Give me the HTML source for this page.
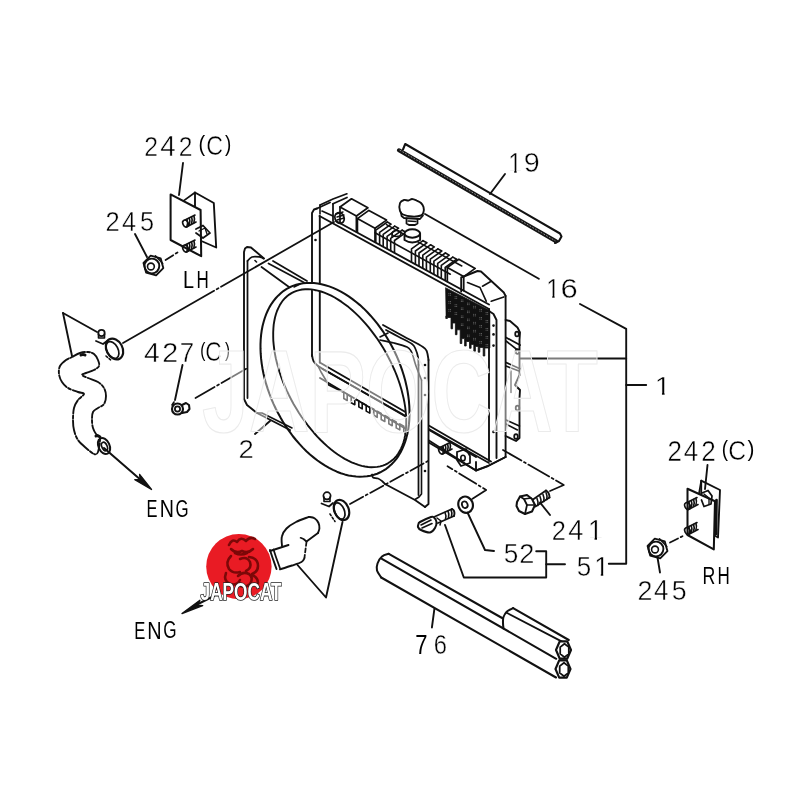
<!DOCTYPE html>
<html><head><meta charset="utf-8"><style>
html,body{margin:0;padding:0;background:#fff;width:800px;height:800px;overflow:hidden}
svg{display:block;will-change:transform}
text{font-family:"Liberation Sans",sans-serif;fill:#000;stroke:#fff;stroke-width:0.45px}
text.n{stroke:none}
text.w{fill:#fff;stroke:#555;stroke-width:1px;paint-order:stroke;font-weight:bold}
</style></head><body>
<svg width="800" height="800" viewBox="0 0 800 800">
<rect width="800" height="800" fill="#fff"/>
<g fill="none" stroke="#111" stroke-linecap="round" stroke-linejoin="round">
<text class="t" transform="translate(144.35,155.50) scale(0.886,1.018)" font-size="28">2</text>
<text class="t" transform="translate(160.36,155.50) scale(0.992,1.033)" font-size="28">4</text>
<text class="t" transform="translate(178.76,155.50) scale(0.882,1.018)" font-size="28">2</text>
<text class="n" transform="translate(198.46,151.08) scale(0.714,0.763)" font-size="28">(</text>
<text class="t" transform="translate(206.32,155.23) scale(0.829,1.004)" font-size="28">C</text>
<text class="n" transform="translate(224.89,151.08) scale(0.674,0.763)" font-size="28">)</text>
<text class="t" transform="translate(105.46,231.40) scale(0.913,1.003)" font-size="28">2</text>
<text class="t" transform="translate(121.92,231.40) scale(0.904,1.017)" font-size="28">4</text>
<text class="t" transform="translate(139.89,231.13) scale(0.904,1.003)" font-size="28">5</text>
<text class="n" transform="translate(183.12,288.20) scale(0.709,0.825)" font-size="28">L</text>
<text class="n" transform="translate(196.60,288.20) scale(0.607,0.825)" font-size="28">H</text>
<text class="t" transform="translate(144.10,361.50) scale(1.010,1.002)" font-size="28">4</text>
<text class="t" transform="translate(162.31,361.50) scale(1.023,0.987)" font-size="28">2</text>
<text class="t" transform="translate(179.67,361.50) scale(0.927,1.002)" font-size="28">7</text>
<text class="n" transform="translate(200.24,357.21) scale(0.552,0.740)" font-size="28">(</text>
<text class="t" transform="translate(205.35,361.23) scale(0.806,0.974)" font-size="28">C</text>
<text class="n" transform="translate(224.91,357.21) scale(0.539,0.740)" font-size="28">)</text>
<text class="t" transform="translate(238.62,457.50) scale(0.980,0.946)" font-size="28">2</text>
<text class="n" transform="translate(146.55,517.00) scale(0.586,0.872)" font-size="28">E</text>
<text class="n" transform="translate(159.68,517.00) scale(0.703,0.872)" font-size="28">N</text>
<text class="n" transform="translate(175.55,516.77) scale(0.602,0.847)" font-size="28">G</text>
<text class="n" transform="translate(134.14,638.50) scale(0.593,0.857)" font-size="28">E</text>
<text class="n" transform="translate(147.27,638.50) scale(0.710,0.857)" font-size="28">N</text>
<text class="n" transform="translate(163.14,638.27) scale(0.613,0.832)" font-size="28">G</text>
<clipPath id="c1_24"><polygon points="7.04,0.82 9.52,0.82 9.52,-2.39 16.41,-2.39 16.41,-21.88 0.00,-21.88 0.00,-2.39 7.04,-2.39"/></clipPath>
<text class="t" transform="translate(508.13,172.70) scale(0.879,1.036)" font-size="28" clip-path="url(#c1_24)">1</text>
<text class="t" transform="translate(523.65,172.42) scale(1.028,1.006)" font-size="28">9</text>
<clipPath id="c1_27"><polygon points="7.04,0.82 9.52,0.82 9.52,-2.39 16.41,-2.39 16.41,-21.88 0.00,-21.88 0.00,-2.39 7.04,-2.39"/></clipPath>
<text class="t" transform="translate(546.13,298.20) scale(0.879,0.997)" font-size="28" clip-path="url(#c1_27)">1</text>
<text class="t" transform="translate(560.43,297.94) scale(1.107,0.969)" font-size="28">6</text>
<clipPath id="c1_30"><polygon points="7.04,0.82 9.52,0.82 9.52,-2.39 16.41,-2.39 16.41,-21.88 0.00,-21.88 0.00,-2.39 7.04,-2.39"/></clipPath>
<text class="t" transform="translate(654.74,395.00) scale(1.026,0.908)" font-size="28" clip-path="url(#c1_30)">1</text>
<text class="t" transform="translate(667.44,460.60) scale(0.929,1.023)" font-size="28">2</text>
<text class="t" transform="translate(683.80,460.60) scale(0.928,1.038)" font-size="28">4</text>
<text class="t" transform="translate(701.19,460.60) scale(0.933,1.023)" font-size="28">2</text>
<text class="n" transform="translate(721.83,456.16) scale(0.674,0.767)" font-size="28">(</text>
<text class="t" transform="translate(728.15,460.32) scale(0.880,1.009)" font-size="28">C</text>
<text class="n" transform="translate(747.38,456.16) scale(0.741,0.767)" font-size="28">)</text>
<text class="t" transform="translate(551.72,539.75) scale(0.909,1.020)" font-size="28">2</text>
<text class="t" transform="translate(568.18,539.75) scale(0.971,1.036)" font-size="28">4</text>
<clipPath id="c1_40"><polygon points="7.04,0.82 9.52,0.82 9.52,-2.39 16.41,-2.39 16.41,-21.88 0.00,-21.88 0.00,-2.39 7.04,-2.39"/></clipPath>
<text class="t" transform="translate(587.93,539.75) scale(0.953,1.036)" font-size="28" clip-path="url(#c1_40)">1</text>
<text class="t" transform="translate(503.75,562.82) scale(0.934,1.019)" font-size="28">5</text>
<text class="t" transform="translate(519.23,563.10) scale(0.972,1.018)" font-size="28">2</text>
<text class="t" transform="translate(576.66,575.93) scale(0.927,0.983)" font-size="28">5</text>
<clipPath id="c1_45"><polygon points="7.04,0.82 9.52,0.82 9.52,-2.39 16.41,-2.39 16.41,-21.88 0.00,-21.88 0.00,-2.39 7.04,-2.39"/></clipPath>
<text class="t" transform="translate(594.13,576.20) scale(0.953,0.997)" font-size="28" clip-path="url(#c1_45)">1</text>
<text class="t" transform="translate(637.40,600.40) scale(0.960,1.008)" font-size="28">2</text>
<text class="t" transform="translate(653.90,600.40) scale(0.928,1.023)" font-size="28">4</text>
<text class="t" transform="translate(671.83,600.12) scale(0.957,1.008)" font-size="28">5</text>
<text class="n" transform="translate(702.55,583.50) scale(0.632,0.857)" font-size="28">R</text>
<text class="n" transform="translate(717.60,583.50) scale(0.607,0.857)" font-size="28">H</text>
<text class="n" transform="translate(415.37,654.00) scale(0.786,1.012)" font-size="28">7</text>
<text class="t" transform="translate(433.79,653.73) scale(0.851,0.984)" font-size="28">6</text>
<path d="M183.0,163.0 L179.0,195.0" stroke-width="1.89" />
<path d="M147.0,257.0 L135.0,234.0" stroke-width="1.89" />
<path d="M182.5,365.0 L175.0,400.0" stroke-width="1.89" />
<path d="M255.0,434.0 L270.0,421.0" stroke-width="1.89" />
<path d="M505.0,174.0 L490.0,194.0" stroke-width="1.89" />
<path d="M425.0,214.0 L538.8,278.8" stroke-width="1.89" />
<path d="M580.0,304.0 L626.2,328.8 L626.2,563.8 L608.8,563.8" stroke-width="1.89" />
<path d="M520.0,358.5 L626.2,358.5" stroke-width="1.89" />
<path d="M626.2,385.0 L646.2,385.0" stroke-width="1.89" />
<path d="M707.5,465.0 L705.0,489.0" stroke-width="1.89" />
<path d="M657.5,557.5 L660.0,572.5" stroke-width="1.89" />
<path d="M540.0,502.5 L550.0,515.0" stroke-width="1.89" />
<path d="M467.5,512.5 L485.0,550.0 L494.0,551.0" stroke-width="1.89" />
<path d="M536.2,551.2 L546.2,551.2 L546.2,577.5 L463.8,577.5 L445.0,525.0" stroke-width="1.89" />
<path d="M546.2,564.2 L565.0,564.2" stroke-width="1.89" />
<path d="M434.4,608.8 L431.9,627.5" stroke-width="1.89" />
<path d="M63.0,313.0 L72.0,356.0" stroke-width="1.89" />
<path d="M63.0,313.0 L97.0,332.0" stroke-width="1.89" />
<path d="M297.5,565.0 L326.0,597.5 L342.5,522.0" stroke-width="1.89" />
<path d="M123.0,343.0 L334.0,222.0" stroke-width="1.76" stroke-dasharray="105 3 2 3 300"/>
<path d="M195.5,398.0 L246.2,368.8" stroke-width="1.76" stroke-dasharray="22 3 2 3 60"/>
<path d="M350.0,504.0 L419.0,466.0 L428.0,461.0" stroke-width="1.76" stroke-dasharray="15 3 2 3"/>
<path d="M550.0,491.0 L563.8,485.0 L503.0,450.0" stroke-width="1.76" stroke-dasharray="24 3 2 3"/>
<path d="M472.5,498.8 L486.2,490.0 L447.5,466.2" stroke-width="1.76" stroke-dasharray="20 3 2 3"/>
<path d="M165.6,260.0 L177.5,252.5" stroke-width="1.76" stroke-dasharray="9 3"/>
<path d="M670.0,542.5 L682.5,536.2" stroke-width="1.76" stroke-dasharray="9 3"/>
<g mask="url(#shm)">
<path d="M312.0,356.0 L312.0,213.0 L314.0,209.5 L317.0,208.5" stroke-width="1.89" />
<path d="M319.8,362.5 L319.8,216.0" stroke-width="1.89" />
<path d="M317.0,208.5 L330.0,202.5" stroke-width="1.89" />
<path d="M319.5,216.0 L489.0,309.0" stroke-width="1.89" />
<path d="M336.0,221.0 L489.0,304.5" stroke-width="1.89" />
<path d="M489.0,309.0 L489.0,461.0" stroke-width="1.89" />
<path d="M489.0,311.0 L493.5,314.0 L496.5,320.0 L496.5,458.0" stroke-width="1.89" />
<path d="M505.6,296.0 L505.6,457.0" stroke-width="1.89" />
<path d="M461.2,291.5 L461.2,277.5 L477.5,271.0 L481.0,271.5 L503.8,292.5 L505.6,296.0" stroke-width="1.89" />
<path d="M467.5,282.5 L480.0,287.5 L486.2,301.2" stroke-width="1.62" />
<path d="M482.5,286.2 L491.2,281.2" stroke-width="1.62" />
<path d="M491.2,301.2 L503.8,296.9" stroke-width="1.62" />
<path d="M319.8,362.5 L491.0,461.5" stroke-width="1.89" />
<path d="M312.0,355.0 C312.2,356.0 312.5,359.2 313.5,361.0 C314.5,362.8 315.2,364.0 318.0,366.0 C320.8,368.0 328.0,371.8 330.0,373.0" stroke-width="1.89" />
<path d="M330.0,373.0 L476.0,457.0" stroke-width="1.89" />
<path d="M320.0,378.0 L476.0,470.5 L488.0,466.0 L505.6,457.0" stroke-width="1.89" />
<path d="M476.0,462.0 L476.0,470.5" stroke-width="1.89" />
<circle cx="315.5" cy="240" r="1.3" fill="#111" stroke="none"/>
<circle cx="315.5" cy="290" r="1.3" fill="#111" stroke="none"/>
<circle cx="493.5" cy="325.6" r="1.3" fill="#111" stroke="none"/>
<circle cx="493.5" cy="334.4" r="1.3" fill="#111" stroke="none"/>
<circle cx="493.5" cy="345.6" r="1.3" fill="#111" stroke="none"/>
<circle cx="493.5" cy="431.9" r="1.3" fill="#111" stroke="none"/>
<path d="M505.6,320.0 L510.0,321.0 L517.5,327.5 L520.0,332.5 L519.5,340.0 L519.5,375.0 L515.0,385.0 L520.0,390.0 L519.5,398.0 L519.5,438.0 L516.0,441.0 L505.6,436.0" stroke-width="1.89" />
<path d="M506.0,337.5 L520.0,345.0" stroke-width="1.76" />
<path d="M506.0,341.0 L517.5,350.0" stroke-width="1.62" />
<path d="M506.0,362.5 L520.0,368.8" stroke-width="1.76" />
<path d="M506.0,366.0 L519.0,371.0" stroke-width="1.62" />
<path d="M506.0,420.0 L519.4,426.0" stroke-width="1.76" />
<path d="M506.0,424.0 L517.5,430.0" stroke-width="1.62" />
<path d="M511.0,371.0 L511.0,392.5" stroke-width="1.35" />
<ellipse cx="517" cy="334" rx="1.8" ry="2.4" transform="rotate(0 517 334)" stroke-width="1.76" fill="none"/>
<ellipse cx="517.5" cy="351.5" rx="1.8" ry="2.4" transform="rotate(0 517.5 351.5)" stroke-width="1.76" fill="none"/>
<ellipse cx="517.5" cy="408" rx="1.8" ry="2.4" transform="rotate(0 517.5 408)" stroke-width="1.76" fill="none"/>
<ellipse cx="516" cy="436.5" rx="1.8" ry="2.4" transform="rotate(0 516 436.5)" stroke-width="1.76" fill="none"/>
<path d="M445.9,287.9 L489.8,310.6 L489.8,348.0 L484.8,348.0 L484.8,356.0 L483.2,356.0 L483.2,347.4 L479.8,347.4 L479.8,352.2 L478.2,352.2 L478.2,346.4 L475.4,346.4 L475.4,351.2 L473.8,351.2 L473.8,344.4 L471.1,344.4 L471.1,348.3 L469.5,348.3 L469.5,341.5 L466.2,341.5 L466.2,346.0 L464.6,346.0 L464.6,338.6 L461.8,338.6 L461.8,343.5 L460.2,343.5 L460.2,329.8 L457.0,329.8 L457.0,334.7 L455.4,334.7 L455.4,323.0 L452.6,323.0 L452.6,328.8 L451.0,328.8 L451.0,317.5 L447.4,317.5 L447.4,318.5 L445.8,318.5 L445.8,316.0 L445.9,316.0 Z" fill="#111" stroke="#111" stroke-width="0.81"/>
<rect x="448.5" y="293.2" width="0.8" height="0.8" fill="#8a8a8a" stroke="none"/>
<rect x="450.1" y="293.2" width="0.8" height="0.8" fill="#8a8a8a" stroke="none"/>
<rect x="448.5" y="294.8" width="0.8" height="0.8" fill="#8a8a8a" stroke="none"/>
<rect x="450.1" y="294.8" width="0.8" height="0.8" fill="#8a8a8a" stroke="none"/>
<rect x="448.5" y="301.2" width="0.8" height="0.8" fill="#8a8a8a" stroke="none"/>
<rect x="450.1" y="301.2" width="0.8" height="0.8" fill="#8a8a8a" stroke="none"/>
<rect x="448.5" y="302.8" width="0.8" height="0.8" fill="#8a8a8a" stroke="none"/>
<rect x="450.1" y="302.8" width="0.8" height="0.8" fill="#8a8a8a" stroke="none"/>
<rect x="448.5" y="309.2" width="0.8" height="0.8" fill="#8a8a8a" stroke="none"/>
<rect x="450.1" y="309.2" width="0.8" height="0.8" fill="#8a8a8a" stroke="none"/>
<rect x="448.5" y="310.8" width="0.8" height="0.8" fill="#8a8a8a" stroke="none"/>
<rect x="450.1" y="310.8" width="0.8" height="0.8" fill="#8a8a8a" stroke="none"/>
<rect x="454.7" y="296.4" width="0.8" height="0.8" fill="#8a8a8a" stroke="none"/>
<rect x="456.3" y="296.4" width="0.8" height="0.8" fill="#8a8a8a" stroke="none"/>
<rect x="454.7" y="298.0" width="0.8" height="0.8" fill="#8a8a8a" stroke="none"/>
<rect x="456.3" y="298.0" width="0.8" height="0.8" fill="#8a8a8a" stroke="none"/>
<rect x="454.7" y="304.4" width="0.8" height="0.8" fill="#8a8a8a" stroke="none"/>
<rect x="456.3" y="304.4" width="0.8" height="0.8" fill="#8a8a8a" stroke="none"/>
<rect x="454.7" y="306.0" width="0.8" height="0.8" fill="#8a8a8a" stroke="none"/>
<rect x="456.3" y="306.0" width="0.8" height="0.8" fill="#8a8a8a" stroke="none"/>
<rect x="454.7" y="312.4" width="0.8" height="0.8" fill="#8a8a8a" stroke="none"/>
<rect x="456.3" y="312.4" width="0.8" height="0.8" fill="#8a8a8a" stroke="none"/>
<rect x="454.7" y="314.0" width="0.8" height="0.8" fill="#8a8a8a" stroke="none"/>
<rect x="456.3" y="314.0" width="0.8" height="0.8" fill="#8a8a8a" stroke="none"/>
<rect x="460.9" y="299.6" width="0.8" height="0.8" fill="#8a8a8a" stroke="none"/>
<rect x="462.5" y="299.6" width="0.8" height="0.8" fill="#8a8a8a" stroke="none"/>
<rect x="460.9" y="301.2" width="0.8" height="0.8" fill="#8a8a8a" stroke="none"/>
<rect x="462.5" y="301.2" width="0.8" height="0.8" fill="#8a8a8a" stroke="none"/>
<rect x="460.9" y="307.6" width="0.8" height="0.8" fill="#8a8a8a" stroke="none"/>
<rect x="462.5" y="307.6" width="0.8" height="0.8" fill="#8a8a8a" stroke="none"/>
<rect x="460.9" y="309.2" width="0.8" height="0.8" fill="#8a8a8a" stroke="none"/>
<rect x="462.5" y="309.2" width="0.8" height="0.8" fill="#8a8a8a" stroke="none"/>
<rect x="460.9" y="315.6" width="0.8" height="0.8" fill="#8a8a8a" stroke="none"/>
<rect x="462.5" y="315.6" width="0.8" height="0.8" fill="#8a8a8a" stroke="none"/>
<rect x="460.9" y="317.2" width="0.8" height="0.8" fill="#8a8a8a" stroke="none"/>
<rect x="462.5" y="317.2" width="0.8" height="0.8" fill="#8a8a8a" stroke="none"/>
<rect x="460.9" y="323.6" width="0.8" height="0.8" fill="#8a8a8a" stroke="none"/>
<rect x="462.5" y="323.6" width="0.8" height="0.8" fill="#8a8a8a" stroke="none"/>
<rect x="460.9" y="325.2" width="0.8" height="0.8" fill="#8a8a8a" stroke="none"/>
<rect x="462.5" y="325.2" width="0.8" height="0.8" fill="#8a8a8a" stroke="none"/>
<rect x="467.1" y="302.7" width="0.8" height="0.8" fill="#8a8a8a" stroke="none"/>
<rect x="468.7" y="302.7" width="0.8" height="0.8" fill="#8a8a8a" stroke="none"/>
<rect x="467.1" y="304.3" width="0.8" height="0.8" fill="#8a8a8a" stroke="none"/>
<rect x="468.7" y="304.3" width="0.8" height="0.8" fill="#8a8a8a" stroke="none"/>
<rect x="467.1" y="310.7" width="0.8" height="0.8" fill="#8a8a8a" stroke="none"/>
<rect x="468.7" y="310.7" width="0.8" height="0.8" fill="#8a8a8a" stroke="none"/>
<rect x="467.1" y="312.3" width="0.8" height="0.8" fill="#8a8a8a" stroke="none"/>
<rect x="468.7" y="312.3" width="0.8" height="0.8" fill="#8a8a8a" stroke="none"/>
<rect x="467.1" y="318.7" width="0.8" height="0.8" fill="#8a8a8a" stroke="none"/>
<rect x="468.7" y="318.7" width="0.8" height="0.8" fill="#8a8a8a" stroke="none"/>
<rect x="467.1" y="320.3" width="0.8" height="0.8" fill="#8a8a8a" stroke="none"/>
<rect x="468.7" y="320.3" width="0.8" height="0.8" fill="#8a8a8a" stroke="none"/>
<rect x="467.1" y="326.7" width="0.8" height="0.8" fill="#8a8a8a" stroke="none"/>
<rect x="468.7" y="326.7" width="0.8" height="0.8" fill="#8a8a8a" stroke="none"/>
<rect x="467.1" y="328.3" width="0.8" height="0.8" fill="#8a8a8a" stroke="none"/>
<rect x="468.7" y="328.3" width="0.8" height="0.8" fill="#8a8a8a" stroke="none"/>
<rect x="467.1" y="334.7" width="0.8" height="0.8" fill="#8a8a8a" stroke="none"/>
<rect x="468.7" y="334.7" width="0.8" height="0.8" fill="#8a8a8a" stroke="none"/>
<rect x="467.1" y="336.3" width="0.8" height="0.8" fill="#8a8a8a" stroke="none"/>
<rect x="468.7" y="336.3" width="0.8" height="0.8" fill="#8a8a8a" stroke="none"/>
<rect x="473.3" y="305.9" width="0.8" height="0.8" fill="#8a8a8a" stroke="none"/>
<rect x="474.9" y="305.9" width="0.8" height="0.8" fill="#8a8a8a" stroke="none"/>
<rect x="473.3" y="307.5" width="0.8" height="0.8" fill="#8a8a8a" stroke="none"/>
<rect x="474.9" y="307.5" width="0.8" height="0.8" fill="#8a8a8a" stroke="none"/>
<rect x="473.3" y="313.9" width="0.8" height="0.8" fill="#8a8a8a" stroke="none"/>
<rect x="474.9" y="313.9" width="0.8" height="0.8" fill="#8a8a8a" stroke="none"/>
<rect x="473.3" y="315.5" width="0.8" height="0.8" fill="#8a8a8a" stroke="none"/>
<rect x="474.9" y="315.5" width="0.8" height="0.8" fill="#8a8a8a" stroke="none"/>
<rect x="473.3" y="321.9" width="0.8" height="0.8" fill="#8a8a8a" stroke="none"/>
<rect x="474.9" y="321.9" width="0.8" height="0.8" fill="#8a8a8a" stroke="none"/>
<rect x="473.3" y="323.5" width="0.8" height="0.8" fill="#8a8a8a" stroke="none"/>
<rect x="474.9" y="323.5" width="0.8" height="0.8" fill="#8a8a8a" stroke="none"/>
<rect x="473.3" y="329.9" width="0.8" height="0.8" fill="#8a8a8a" stroke="none"/>
<rect x="474.9" y="329.9" width="0.8" height="0.8" fill="#8a8a8a" stroke="none"/>
<rect x="473.3" y="331.5" width="0.8" height="0.8" fill="#8a8a8a" stroke="none"/>
<rect x="474.9" y="331.5" width="0.8" height="0.8" fill="#8a8a8a" stroke="none"/>
<rect x="473.3" y="337.9" width="0.8" height="0.8" fill="#8a8a8a" stroke="none"/>
<rect x="474.9" y="337.9" width="0.8" height="0.8" fill="#8a8a8a" stroke="none"/>
<rect x="473.3" y="339.5" width="0.8" height="0.8" fill="#8a8a8a" stroke="none"/>
<rect x="474.9" y="339.5" width="0.8" height="0.8" fill="#8a8a8a" stroke="none"/>
<rect x="479.5" y="309.1" width="0.8" height="0.8" fill="#8a8a8a" stroke="none"/>
<rect x="481.1" y="309.1" width="0.8" height="0.8" fill="#8a8a8a" stroke="none"/>
<rect x="479.5" y="310.7" width="0.8" height="0.8" fill="#8a8a8a" stroke="none"/>
<rect x="481.1" y="310.7" width="0.8" height="0.8" fill="#8a8a8a" stroke="none"/>
<rect x="479.5" y="317.1" width="0.8" height="0.8" fill="#8a8a8a" stroke="none"/>
<rect x="481.1" y="317.1" width="0.8" height="0.8" fill="#8a8a8a" stroke="none"/>
<rect x="479.5" y="318.7" width="0.8" height="0.8" fill="#8a8a8a" stroke="none"/>
<rect x="481.1" y="318.7" width="0.8" height="0.8" fill="#8a8a8a" stroke="none"/>
<rect x="479.5" y="325.1" width="0.8" height="0.8" fill="#8a8a8a" stroke="none"/>
<rect x="481.1" y="325.1" width="0.8" height="0.8" fill="#8a8a8a" stroke="none"/>
<rect x="479.5" y="326.7" width="0.8" height="0.8" fill="#8a8a8a" stroke="none"/>
<rect x="481.1" y="326.7" width="0.8" height="0.8" fill="#8a8a8a" stroke="none"/>
<rect x="479.5" y="333.1" width="0.8" height="0.8" fill="#8a8a8a" stroke="none"/>
<rect x="481.1" y="333.1" width="0.8" height="0.8" fill="#8a8a8a" stroke="none"/>
<rect x="479.5" y="334.7" width="0.8" height="0.8" fill="#8a8a8a" stroke="none"/>
<rect x="481.1" y="334.7" width="0.8" height="0.8" fill="#8a8a8a" stroke="none"/>
<rect x="479.5" y="341.1" width="0.8" height="0.8" fill="#8a8a8a" stroke="none"/>
<rect x="481.1" y="341.1" width="0.8" height="0.8" fill="#8a8a8a" stroke="none"/>
<rect x="479.5" y="342.7" width="0.8" height="0.8" fill="#8a8a8a" stroke="none"/>
<rect x="481.1" y="342.7" width="0.8" height="0.8" fill="#8a8a8a" stroke="none"/>
<rect x="485.7" y="312.2" width="0.8" height="0.8" fill="#8a8a8a" stroke="none"/>
<rect x="487.3" y="312.2" width="0.8" height="0.8" fill="#8a8a8a" stroke="none"/>
<rect x="485.7" y="313.8" width="0.8" height="0.8" fill="#8a8a8a" stroke="none"/>
<rect x="487.3" y="313.8" width="0.8" height="0.8" fill="#8a8a8a" stroke="none"/>
<rect x="485.7" y="320.2" width="0.8" height="0.8" fill="#8a8a8a" stroke="none"/>
<rect x="487.3" y="320.2" width="0.8" height="0.8" fill="#8a8a8a" stroke="none"/>
<rect x="485.7" y="321.8" width="0.8" height="0.8" fill="#8a8a8a" stroke="none"/>
<rect x="487.3" y="321.8" width="0.8" height="0.8" fill="#8a8a8a" stroke="none"/>
<rect x="485.7" y="328.2" width="0.8" height="0.8" fill="#8a8a8a" stroke="none"/>
<rect x="487.3" y="328.2" width="0.8" height="0.8" fill="#8a8a8a" stroke="none"/>
<rect x="485.7" y="329.8" width="0.8" height="0.8" fill="#8a8a8a" stroke="none"/>
<rect x="487.3" y="329.8" width="0.8" height="0.8" fill="#8a8a8a" stroke="none"/>
<rect x="485.7" y="336.2" width="0.8" height="0.8" fill="#8a8a8a" stroke="none"/>
<rect x="487.3" y="336.2" width="0.8" height="0.8" fill="#8a8a8a" stroke="none"/>
<rect x="485.7" y="337.8" width="0.8" height="0.8" fill="#8a8a8a" stroke="none"/>
<rect x="487.3" y="337.8" width="0.8" height="0.8" fill="#8a8a8a" stroke="none"/>
<rect x="485.7" y="344.2" width="0.8" height="0.8" fill="#8a8a8a" stroke="none"/>
<rect x="487.3" y="344.2" width="0.8" height="0.8" fill="#8a8a8a" stroke="none"/>
<rect x="485.7" y="345.8" width="0.8" height="0.8" fill="#8a8a8a" stroke="none"/>
<rect x="487.3" y="345.8" width="0.8" height="0.8" fill="#8a8a8a" stroke="none"/>
<path d="M375.0,232.8 L450.3,274.2" stroke-width="1.62" />
<path d="M386.5,224.6 L461.8,266.0" stroke-width="1.49" />
<path d="M340.0,222.5 L340.0,207.0 L356.4,216.0 L356.4,231.5" stroke-width="1.76" />
<path d="M340.0,207.0 L351.5,198.8 L367.9,207.8 L356.4,216.0" stroke-width="1.76" />
<path d="M357.4,232.1 L357.4,218.6 L375.0,228.3 L375.0,241.8" stroke-width="1.76" />
<path d="M357.4,218.6 L368.9,210.4 L386.5,220.1 L375.0,228.3" stroke-width="1.76" />
<path d="M375.8,242.2 L375.8,230.2 L387.3,222.0" stroke-width="1.62" />
<path d="M379.6,244.3 L379.6,232.3 L391.1,224.1 L387.3,222.0" stroke-width="1.62" />
<path d="M383.2,246.3 L383.2,234.3 L394.7,226.1" stroke-width="1.62" />
<path d="M387.1,248.4 L387.1,236.4 L398.6,228.2 L394.7,226.1" stroke-width="1.62" />
<path d="M390.7,250.4 L390.7,238.4 L402.2,230.2" stroke-width="1.62" />
<path d="M394.5,252.5 L394.5,240.5 L406.0,232.3 L402.2,230.2" stroke-width="1.62" />
<path d="M411.5,261.9 L411.5,248.9 L423.0,240.7" stroke-width="1.62" />
<path d="M415.4,264.0 L415.4,251.0 L426.9,242.8 L423.0,240.7" stroke-width="1.62" />
<path d="M419.0,266.0 L419.0,253.0 L430.5,244.8" stroke-width="1.62" />
<path d="M422.8,268.1 L422.8,255.1 L434.3,246.9 L430.5,244.8" stroke-width="1.62" />
<path d="M426.4,270.1 L426.4,257.1 L437.9,248.9" stroke-width="1.62" />
<path d="M430.3,272.2 L430.3,259.2 L441.8,251.0 L437.9,248.9" stroke-width="1.62" />
<path d="M433.9,274.2 L433.9,261.2 L445.4,253.0" stroke-width="1.62" />
<path d="M437.7,276.3 L437.7,263.3 L449.2,255.1 L445.4,253.0" stroke-width="1.62" />
<path d="M441.3,278.3 L441.3,265.3 L452.8,257.1" stroke-width="1.62" />
<path d="M445.2,280.4 L445.2,267.4 L456.7,259.2 L452.8,257.1" stroke-width="1.62" />
<path d="M447.3,281.5 L447.3,267.5 L463.7,276.6 L463.7,290.6" stroke-width="1.76" />
<path d="M447.3,267.5 L458.8,259.3 L475.2,268.4 L463.7,276.6" stroke-width="1.76" />
<path d="M404.5,233.5 L404.5,240 q7.8,5 15.6,0 L420.1,233.5" fill="#fff" stroke-width="1.89"/>
<ellipse cx="412.3" cy="233.5" rx="7.8" ry="4.2" fill="#fff" stroke-width="2.03"/>
<ellipse cx="396.5" cy="233.5" rx="4.5" ry="3" transform="rotate(0 396.5 233.5)" stroke-width="1.62" fill="none"/>
<path d="M392.0,233.5 L392.0,237.0" stroke-width="1.49" />
<path d="M320.0,205.0 L333.0,199.0 L346.9,193.8" stroke-width="1.76" />
<path d="M333.0,203.8 L333.0,221.0" stroke-width="1.76" />
<path d="M333.0,203.8 L347.0,197.5" stroke-width="1.76" />
<path d="M320.0,205.0 L320.0,214.0" stroke-width="1.62" />
<path d="M322.0,211.0 L333.0,216.0" stroke-width="1.62" />
<ellipse cx="339.5" cy="218" rx="4.5" ry="5.5" transform="rotate(-20 339.5 218)" stroke-width="1.89" fill="none"/>
<path d="M336.0,214.0 L343.0,212.0" stroke-width="1.35" />
<path d="M337.0,217.0 L344.0,215.0" stroke-width="1.35" />
<path d="M337.0,220.0 L344.0,218.0" stroke-width="1.35" />
<path d="M322.5,369.0 L489.0,463.0" stroke-width="1.76" />
<path d="M318.0,366.0 L321.0,372.0 L328.8,385.0 L343.8,392.5 L343.8,398.5 L347.2,400.5 L347.2,394.5 L351.2,396.7 L351.2,402.7 L354.8,404.7 L354.8,398.7 L358.8,400.9 L358.8,406.9 L362.2,408.9 L362.2,402.9 L366.2,405.1 L366.2,411.1 L369.8,413.1 L369.8,407.1 L373.8,409.3 L373.8,415.3 L377.2,417.3 L377.2,411.3 L381.2,413.5 L381.2,419.5 L384.8,421.5 L384.8,415.5 L388.8,417.7 L388.8,423.7 L392.2,425.7 L392.2,419.7 L396.2,421.9 L396.2,427.9 L399.8,429.9 L399.8,423.9 L403.8,426.1 L403.8,432.1 L407.2,434.1 L407.2,428.1 L411.2,430.3 L411.2,436.3 L414.8,438.3 L414.8,432.3 L418.8,434.5 L418.8,440.5 L422.2,442.5 L422.2,436.5 L426.2,438.7" stroke-width="1.62" />
<path d="M426.2,438.7 L476.0,470.5 L488.0,466.0 L505.6,457.0" stroke-width="1.76" />
<ellipse cx="441.5" cy="450.5" rx="2.6" ry="3.6" transform="rotate(-25 441.5 450.5)" stroke-width="1.62" fill="none"/>
<path d="M443.0,446.5 q1.2,3 0,6.5" stroke-width="1.62"/>
<path d="M445.3,445.3 q1.2,3 0,6.5" stroke-width="1.62"/>
<path d="M447.6,444.1 q1.2,3 0,6.5" stroke-width="1.62"/>
<path d="M449.9,442.9 q1.2,3 0,6.5" stroke-width="1.62"/>
<path d="M441.5,446.8 L451.0,442.0" stroke-width="1.62" />
<path d="M442.5,454.0 L452.0,449.0" stroke-width="1.62" />
<path d="M457.0,452.0 L466.0,449.0 L470.0,456.0 L470.0,463.0 L461.0,466.0 L457.0,460.0 L457.0,452.0" stroke-width="1.76" />
<ellipse cx="463" cy="458" rx="2.2" ry="2.8" transform="rotate(0 463 458)" stroke-width="1.62" fill="none"/>
</g>
<defs><mask id="shm" maskUnits="userSpaceOnUse" x="0" y="0" width="800" height="800"><rect width="800" height="800" fill="#fff"/><path d="M244.0,252.0 L245.0,248.5 L247.0,247.0 L251.0,247.5 L264.0,258.5 L273.0,261.0 L425.0,348.0 L428.0,353.0 L428.0,506.5 L421.0,505.0 L383.0,483.0 L376.0,476.0 L257.0,413.0 L247.0,405.0 L244.0,399.0 Z" fill="#000"/><path d="M394.2,350.8 L396.5,355.7 L398.6,360.6 L400.5,365.6 L402.3,370.7 L403.9,375.7 L405.3,380.8 L406.5,385.9 L407.5,390.9 L408.3,396.0 L408.9,400.9 L409.3,405.9 L409.5,410.7 L409.5,415.5 L409.3,420.1 L408.9,424.7 L408.3,429.1 L407.5,433.4 L406.4,437.6 L405.2,441.6 L403.8,445.4 L402.2,449.1 L400.5,452.5 L398.5,455.8 L396.4,458.8 L394.1,461.6 L391.6,464.2 L389.0,466.6 L386.3,468.8 L383.3,470.7 L380.3,472.3 L377.2,473.7 L373.9,474.8 L370.5,475.7 L367.0,476.3 L363.5,476.6 L359.8,476.7 L356.1,476.5 L352.3,476.1 L348.5,475.4 L344.7,474.4 L340.8,473.2 L336.9,471.7 L333.0,469.9 L329.1,467.9 L325.2,465.7 L321.3,463.2 L317.5,460.5 L313.8,457.6 L310.0,454.5 L306.4,451.2 L302.8,447.6 L299.4,443.9 L296.0,440.0 L292.7,436.0 L289.6,431.7 L286.5,427.4 L283.6,422.9 L280.9,418.3 L278.3,413.6 L275.8,408.8 L273.5,403.9 L271.4,399.0 L269.5,394.0 L267.7,388.9 L266.1,383.9 L264.7,378.8 L263.5,373.7 L262.5,368.7 L261.7,363.6 L261.1,358.7 L260.7,353.7 L260.5,348.9 L260.5,344.1 L260.7,339.5 L261.1,334.9 L261.7,330.5 L262.5,326.2 L263.6,322.0 L264.8,318.0 L266.2,314.2 L267.8,310.5 L269.5,307.1 L271.5,303.8 L273.6,300.8 L275.9,298.0 L278.4,295.4 L281.0,293.0 L283.7,290.8 L286.7,288.9 L289.7,287.3 L292.8,285.9 L296.1,284.8 L299.5,283.9 L303.0,283.3 L306.5,283.0 L310.2,282.9 L313.9,283.1 L317.7,283.5 L321.5,284.2 L325.3,285.2 L329.2,286.4 L333.1,287.9 L337.0,289.7 L340.9,291.7 L344.8,293.9 L348.7,296.4 L352.5,299.1 L356.2,302.0 L360.0,305.1 L363.6,308.4 L367.2,312.0 L370.6,315.7 L374.0,319.6 L377.3,323.6 L380.4,327.9 L383.5,332.2 L386.4,336.7 L389.1,341.3 L391.7,346.0 L394.2,350.8 Z" fill="#000"/><path d="M385.7,352.2 L388.1,356.7 L390.4,361.2 L392.6,365.8 L394.7,370.5 L396.6,375.1 L398.3,379.8 L399.9,384.4 L401.3,389.1 L402.5,393.7 L403.6,398.2 L404.5,402.8 L405.2,407.2 L405.7,411.6 L406.1,415.8 L406.2,420.0 L406.2,424.1 L406.0,428.0 L405.7,431.8 L405.1,435.4 L404.4,438.9 L403.5,442.2 L402.4,445.4 L401.1,448.3 L399.7,451.1 L398.1,453.7 L396.4,456.1 L394.5,458.2 L392.4,460.1 L390.2,461.8 L387.9,463.3 L385.4,464.6 L382.8,465.6 L380.1,466.3 L377.3,466.9 L374.3,467.1 L371.3,467.2 L368.2,467.0 L365.0,466.5 L361.7,465.8 L358.4,464.9 L355.1,463.7 L351.6,462.3 L348.2,460.7 L344.7,458.9 L341.3,456.8 L337.8,454.5 L334.3,452.0 L330.8,449.3 L327.4,446.4 L324.0,443.3 L320.6,440.0 L317.3,436.6 L314.1,433.0 L310.9,429.2 L307.8,425.3 L304.8,421.3 L301.8,417.2 L299.0,413.0 L296.3,408.6 L293.7,404.2 L291.3,399.7 L289.0,395.2 L286.8,390.6 L284.7,385.9 L282.8,381.3 L281.1,376.6 L279.5,372.0 L278.1,367.3 L276.9,362.7 L275.8,358.2 L274.9,353.6 L274.2,349.2 L273.7,344.8 L273.3,340.6 L273.2,336.4 L273.2,332.3 L273.4,328.4 L273.7,324.6 L274.3,321.0 L275.0,317.5 L275.9,314.2 L277.0,311.0 L278.3,308.1 L279.7,305.3 L281.3,302.7 L283.0,300.3 L284.9,298.2 L287.0,296.3 L289.2,294.6 L291.5,293.1 L294.0,291.8 L296.6,290.8 L299.3,290.1 L302.1,289.5 L305.1,289.3 L308.1,289.2 L311.2,289.4 L314.4,289.9 L317.7,290.6 L321.0,291.5 L324.3,292.7 L327.8,294.1 L331.2,295.7 L334.7,297.5 L338.1,299.6 L341.6,301.9 L345.1,304.4 L348.6,307.1 L352.0,310.0 L355.4,313.1 L358.8,316.4 L362.1,319.8 L365.3,323.4 L368.5,327.2 L371.6,331.1 L374.6,335.1 L377.6,339.2 L380.4,343.4 L383.1,347.8 L385.7,352.2 Z" fill="#fff"/></mask></defs>
<path d="M394.2,350.8 L396.5,355.7 L398.6,360.6 L400.5,365.6 L402.3,370.7 L403.9,375.7 L405.3,380.8 L406.5,385.9 L407.5,390.9 L408.3,396.0 L408.9,400.9 L409.3,405.9 L409.5,410.7 L409.5,415.5 L409.3,420.1 L408.9,424.7 L408.3,429.1 L407.5,433.4 L406.4,437.6 L405.2,441.6 L403.8,445.4 L402.2,449.1 L400.5,452.5 L398.5,455.8 L396.4,458.8 L394.1,461.6 L391.6,464.2 L389.0,466.6 L386.3,468.8 L383.3,470.7 L380.3,472.3 L377.2,473.7 L373.9,474.8 L370.5,475.7 L367.0,476.3 L363.5,476.6 L359.8,476.7 L356.1,476.5 L352.3,476.1 L348.5,475.4 L344.7,474.4 L340.8,473.2 L336.9,471.7 L333.0,469.9 L329.1,467.9 L325.2,465.7 L321.3,463.2 L317.5,460.5 L313.8,457.6 L310.0,454.5 L306.4,451.2 L302.8,447.6 L299.4,443.9 L296.0,440.0 L292.7,436.0 L289.6,431.7 L286.5,427.4 L283.6,422.9 L280.9,418.3 L278.3,413.6 L275.8,408.8 L273.5,403.9 L271.4,399.0 L269.5,394.0 L267.7,388.9 L266.1,383.9 L264.7,378.8 L263.5,373.7 L262.5,368.7 L261.7,363.6 L261.1,358.7 L260.7,353.7 L260.5,348.9 L260.5,344.1 L260.7,339.5 L261.1,334.9 L261.7,330.5 L262.5,326.2 L263.6,322.0 L264.8,318.0 L266.2,314.2 L267.8,310.5 L269.5,307.1 L271.5,303.8 L273.6,300.8 L275.9,298.0 L278.4,295.4 L281.0,293.0 L283.7,290.8 L286.7,288.9 L289.7,287.3 L292.8,285.9 L296.1,284.8 L299.5,283.9 L303.0,283.3 L306.5,283.0 L310.2,282.9 L313.9,283.1 L317.7,283.5 L321.5,284.2 L325.3,285.2 L329.2,286.4 L333.1,287.9 L337.0,289.7 L340.9,291.7 L344.8,293.9 L348.7,296.4 L352.5,299.1 L356.2,302.0 L360.0,305.1 L363.6,308.4 L367.2,312.0 L370.6,315.7 L374.0,319.6 L377.3,323.6 L380.4,327.9 L383.5,332.2 L386.4,336.7 L389.1,341.3 L391.7,346.0 L394.2,350.8 Z" stroke-width="2.03" />
<path d="M385.7,352.2 L388.1,356.7 L390.4,361.2 L392.6,365.8 L394.7,370.5 L396.6,375.1 L398.3,379.8 L399.9,384.4 L401.3,389.1 L402.5,393.7 L403.6,398.2 L404.5,402.8 L405.2,407.2 L405.7,411.6 L406.1,415.8 L406.2,420.0 L406.2,424.1 L406.0,428.0 L405.7,431.8 L405.1,435.4 L404.4,438.9 L403.5,442.2 L402.4,445.4 L401.1,448.3 L399.7,451.1 L398.1,453.7 L396.4,456.1 L394.5,458.2 L392.4,460.1 L390.2,461.8 L387.9,463.3 L385.4,464.6 L382.8,465.6 L380.1,466.3 L377.3,466.9 L374.3,467.1 L371.3,467.2 L368.2,467.0 L365.0,466.5 L361.7,465.8 L358.4,464.9 L355.1,463.7 L351.6,462.3 L348.2,460.7 L344.7,458.9 L341.3,456.8 L337.8,454.5 L334.3,452.0 L330.8,449.3 L327.4,446.4 L324.0,443.3 L320.6,440.0 L317.3,436.6 L314.1,433.0 L310.9,429.2 L307.8,425.3 L304.8,421.3 L301.8,417.2 L299.0,413.0 L296.3,408.6 L293.7,404.2 L291.3,399.7 L289.0,395.2 L286.8,390.6 L284.7,385.9 L282.8,381.3 L281.1,376.6 L279.5,372.0 L278.1,367.3 L276.9,362.7 L275.8,358.2 L274.9,353.6 L274.2,349.2 L273.7,344.8 L273.3,340.6 L273.2,336.4 L273.2,332.3 L273.4,328.4 L273.7,324.6 L274.3,321.0 L275.0,317.5 L275.9,314.2 L277.0,311.0 L278.3,308.1 L279.7,305.3 L281.3,302.7 L283.0,300.3 L284.9,298.2 L287.0,296.3 L289.2,294.6 L291.5,293.1 L294.0,291.8 L296.6,290.8 L299.3,290.1 L302.1,289.5 L305.1,289.3 L308.1,289.2 L311.2,289.4 L314.4,289.9 L317.7,290.6 L321.0,291.5 L324.3,292.7 L327.8,294.1 L331.2,295.7 L334.7,297.5 L338.1,299.6 L341.6,301.9 L345.1,304.4 L348.6,307.1 L352.0,310.0 L355.4,313.1 L358.8,316.4 L362.1,319.8 L365.3,323.4 L368.5,327.2 L371.6,331.1 L374.6,335.1 L377.6,339.2 L380.4,343.4 L383.1,347.8 L385.7,352.2 Z" stroke-width="1.89" />
<path d="M244.0,399.0 L244.0,252.0 L245.0,248.5 L247.0,247.0 L251.0,247.5 L264.0,258.5" stroke-width="1.89" />
<path d="M247.5,398.0 L247.5,261.0" stroke-width="1.76" />
<path d="M247.5,261.0 C248.2,260.3 249.9,257.7 252.0,257.0 C254.1,256.3 258.1,256.8 260.0,257.0 C261.9,257.2 262.9,258.2 263.5,258.5" stroke-width="1.76" />
<path d="M244.0,399.0 L247.0,405.0 L257.0,413.0 L290.0,430.0" stroke-width="1.89" />
<path d="M257.0,413.0 L262.0,413.0 L292.0,428.0" stroke-width="1.62" />
<path d="M273.0,261.0 L307.0,281.0" stroke-width="1.76" />
<path d="M268.5,263.5 L304.0,282.5" stroke-width="1.76" />
<path d="M261.5,267.0 L289.0,287.0" stroke-width="1.76" />
<path d="M255.0,260.5 L256.5,262.0" stroke-width="1.62" />
<path d="M294.0,287.0 L300.0,284.0" stroke-width="1.62" />
<path d="M383.0,325.0 C386.3,326.8 396.3,332.3 403.0,336.0 C409.7,339.7 419.0,344.3 423.0,347.0 C427.0,349.7 426.1,349.8 427.0,352.0 C427.9,354.2 428.2,358.7 428.5,360.0" stroke-width="1.89" />
<path d="M428.5,360.0 L428.5,504.0 L425.0,507.0" stroke-width="1.89" />
<path d="M386.0,330.0 C388.2,331.2 394.7,334.7 399.0,337.0 C403.3,339.3 409.2,342.0 412.0,344.0 C414.8,346.0 414.5,346.8 415.5,349.0 C416.5,351.2 417.5,354.3 418.0,357.0 C418.5,359.7 418.4,363.7 418.5,365.0" stroke-width="1.76" />
<path d="M418.5,365.0 L418.5,495.0" stroke-width="1.76" />
<path d="M380.0,340.0 C382.3,340.5 389.5,341.8 394.0,343.0 C398.5,344.2 404.2,345.7 407.0,347.0 C409.8,348.3 410.0,349.5 411.0,351.0 C412.0,352.5 412.2,353.5 413.0,356.0 C413.8,358.5 414.6,362.0 416.0,366.0 C417.4,370.0 420.6,377.7 421.5,380.0" stroke-width="1.62" />
<path d="M421.5,380.0 L421.5,494.0 L419.0,497.0 L415.0,499.5" stroke-width="1.62" />
<path d="M380.0,337.0 L388.0,333.0" stroke-width="1.62" />
<path d="M372.0,474.5 C372.2,475.0 372.0,476.8 373.0,477.5 C374.0,478.2 376.5,477.9 378.0,478.5 C379.5,479.1 380.8,480.1 382.0,481.0 C383.2,481.9 384.5,483.5 385.0,484.0" stroke-width="1.76" />
<path d="M385.0,484.0 L415.0,500.0 L425.0,507.0" stroke-width="1.89" />
<circle cx="425" cy="365" r="1.3" fill="#111" stroke="none"/>
<circle cx="425" cy="378" r="1.3" fill="#111" stroke="none"/>
<circle cx="425" cy="395" r="1.3" fill="#111" stroke="none"/>
<circle cx="425" cy="471" r="1.3" fill="#111" stroke="none"/>
<path d="M403.0,149.5 L405.2,144.0 L560.0,233.5 L561.5,236.5 L559.0,241.0 L555.0,243.0" stroke-width="2.03" />
<path d="M399.0,150.3 L556.0,241.3" stroke-width="4.05" stroke="#151515"/>
<path d="M400.0,150.3 L555.0,240.6" stroke-width="0.94" stroke="#999" stroke-dasharray="1 2.2"/>
<path d="M400.0,203.0 C400.7,201.2 402.6,200.4 404.0,200.0 C405.4,199.6 407.2,200.7 408.5,200.5 C409.8,200.3 410.7,199.0 412.0,199.0 C413.3,199.0 415.0,199.8 416.5,200.5 C418.0,201.2 419.8,201.9 421.0,203.0 C422.2,204.1 423.1,205.5 423.5,207.0 C423.9,208.5 423.9,210.6 423.5,212.0 C423.1,213.4 422.9,214.8 421.0,215.5 C419.1,216.2 415.0,216.7 412.0,216.5 C409.0,216.3 405.0,215.4 403.0,214.5 C401.0,213.6 400.5,212.9 400.0,211.0 C399.5,209.1 399.3,204.8 400.0,203.0 Z" stroke-width="1.89" />
<path d="M401.0,212.5 L401.5,216.0 L404.0,218.0 L420.0,219.0 L423.0,215.5" stroke-width="1.76" />
<path d="M406.5,218.5 L406.5,223.5 L409.0,225.0 L415.0,225.0 L417.5,223.5 L417.5,219.0" stroke-width="1.76" />
<path d="M408.0,221.0 L416.0,221.5" stroke-width="1.35" />
<path d="M72.0,357.0 C74.3,355.8 77.3,353.8 80.0,353.0 C82.7,352.2 85.7,351.8 88.0,352.0 C90.3,352.2 92.3,352.7 94.0,354.0 C95.7,355.3 97.2,358.0 98.0,360.0 C98.8,362.0 99.7,364.3 99.0,366.0 C98.3,367.7 96.2,368.8 94.0,370.0 C91.8,371.2 88.0,372.2 86.0,373.0 C84.0,373.8 81.7,374.2 82.0,375.0 C82.3,375.8 85.3,376.8 88.0,378.0 C90.7,379.2 95.3,380.3 98.0,382.0 C100.7,383.7 102.7,385.7 104.0,388.0 C105.3,390.3 106.0,393.3 106.0,396.0 C106.0,398.7 105.3,402.0 104.0,404.0 C102.7,406.0 99.8,406.7 98.0,408.0 C96.2,409.3 94.0,410.0 93.0,412.0 C92.0,414.0 92.0,417.3 92.0,420.0 C92.0,422.7 92.3,425.7 93.0,428.0 C93.7,430.3 94.8,432.3 96.0,434.0 C97.2,435.7 99.7,435.0 100.0,438.0 C100.3,441.0 99.0,449.3 98.0,452.0 C97.0,454.7 96.0,454.7 94.0,454.0 C92.0,453.3 88.7,450.3 86.0,448.0 C83.3,445.7 80.0,443.0 78.0,440.0 C76.0,437.0 74.8,433.3 74.0,430.0 C73.2,426.7 73.0,423.7 73.0,420.0 C73.0,416.3 73.2,411.3 74.0,408.0 C74.8,404.7 76.3,402.3 78.0,400.0 C79.7,397.7 84.0,395.3 84.0,394.0 C84.0,392.7 80.7,393.0 78.0,392.0 C75.3,391.0 70.7,389.7 68.0,388.0 C65.3,386.3 63.5,384.3 62.0,382.0 C60.5,379.7 59.3,376.7 59.0,374.0 C58.7,371.3 58.8,368.3 60.0,366.0 C61.2,363.7 64.0,361.5 66.0,360.0 C68.0,358.5 69.7,358.2 72.0,357.0 Z" stroke-width="1.89" stroke-dasharray="14 2 3 2"/>
<ellipse cx="104" cy="446" rx="5.5" ry="8.5" transform="rotate(-25 104 446)" stroke-width="2.03" fill="none"/>
<ellipse cx="104.5" cy="446.5" rx="2.6" ry="4.5" transform="rotate(-25 104.5 446.5)" stroke-width="1.62" fill="none"/>
<path d="M81,355 q2,-1 4,0" stroke-width="2.97"/><path d="M96,436 q2,-1 4,1" stroke-width="2.97"/>
<ellipse cx="114.5" cy="349" rx="8" ry="11" transform="rotate(-28 114.5 349)" stroke-width="2.16" fill="none"/>
<ellipse cx="112.5" cy="350" rx="5.5" ry="9" transform="rotate(-28 112.5 350)" stroke-width="1.76" fill="none"/>
<path d="M106.0,356.0 L112.0,361.0" stroke-width="1.62" stroke-dasharray="2 2"/>
<circle cx="101.5" cy="333" r="3.2" stroke-width="1.76"/>
<path d="M98.5,334.0 L98.5,338.0 L104.5,338.0 L104.5,334.0" stroke-width="1.62" />
<path d="M96.0,341.0 L103.0,344.0 L107.0,341.0" stroke-width="1.76" />
<path d="M104.0,448.0 L142.0,481.0" stroke-width="2.03" />
<path d="M151.5,489.5 L134.8,479.7 L140.1,479.5 L139.6,474.3 Z" fill="#111" stroke="#111" stroke-width="1.35"/>
<circle cx="177.5" cy="409" r="5.5" stroke-width="2.16"/>
<circle cx="177.5" cy="409" r="2.6" stroke-width="1.76"/>
<path d="M182.0,405.0 L186.0,403.0 L189.0,405.0 L189.5,409.0 L187.0,412.0 L182.0,413.0" stroke-width="2.03" />
<path d="M172.0,405.0 L174.0,402.0" stroke-width="1.62" />
<path d="M195.0,207.0 L195.0,192.5 L213.8,203.0 L216.2,247.5 L202.5,241.5" stroke-width="1.89" />
<path d="M183.8,200.6 L195.0,192.5" stroke-width="1.76" />
<path d="M170.6,194.4 L200.6,210.0 L201.2,256.2 L170.6,240.0 Z" fill="#fff" stroke-width="2.03"/>
<ellipse cx="185.5" cy="223.5" rx="2.6" ry="3.6" transform="rotate(-25 185.5 223.5)" stroke-width="1.62" fill="none"/>
<path d="M187.0,219.5 q1.2,3 0,6.5" stroke-width="1.62"/>
<path d="M189.3,218.3 q1.2,3 0,6.5" stroke-width="1.62"/>
<path d="M191.6,217.1 q1.2,3 0,6.5" stroke-width="1.62"/>
<path d="M193.9,215.9 q1.2,3 0,6.5" stroke-width="1.62"/>
<path d="M185.5,219.8 L195.0,215.0" stroke-width="1.62" />
<path d="M186.5,227.0 L196.0,222.0" stroke-width="1.62" />
<ellipse cx="185.5" cy="248.5" rx="2.6" ry="3.6" transform="rotate(-25 185.5 248.5)" stroke-width="1.62" fill="none"/>
<path d="M187.0,244.5 q1.2,3 0,6.5" stroke-width="1.62"/>
<path d="M189.3,243.3 q1.2,3 0,6.5" stroke-width="1.62"/>
<path d="M191.6,242.1 q1.2,3 0,6.5" stroke-width="1.62"/>
<path d="M193.9,240.9 q1.2,3 0,6.5" stroke-width="1.62"/>
<path d="M185.5,244.8 L195.0,240.0" stroke-width="1.62" />
<path d="M186.5,252.0 L196.0,247.0" stroke-width="1.62" />
<path d="M196.0,229.0 L203.0,225.5 L210.0,233.0 L203.0,238.0 L196.0,233.0" stroke-width="1.76" />
<path d="M199.0,231.0 L205.0,228.0 L207.0,234.0" stroke-width="1.35" />
<path d="M163.3,268.1 L156.1,275.3 L146.1,272.6 L143.5,262.9 L150.7,255.7 L160.7,258.4 Z" stroke-width="1.89" />
<circle cx="151.9" cy="266.0" r="7.4" stroke-width="1.89"/>
<circle cx="150.9" cy="266.5" r="3.4" stroke-width="1.62"/>
<path d="M155.4,255.7 L162.7,263.5" stroke-width="1.49" />
<path d="M701.2,503.8 L701.2,480.6 L720.0,490.0 L718.0,537.5 L713.8,535.0" stroke-width="1.89" />
<path d="M698.8,494.4 L701.2,480.6" stroke-width="1.62" />
<path d="M716.5,500.0 L716.0,534.0" stroke-width="2.70" />
<path d="M687.5,488.8 L715.0,501.2 L713.8,549.4 L687.5,535.0 Z" fill="#fff" stroke-width="2.03"/>
<ellipse cx="687.5" cy="506.0" rx="2.6" ry="3.6" transform="rotate(-25 687.5 506.0)" stroke-width="1.62" fill="none"/>
<path d="M689.0,502.0 q1.2,3 0,6.5" stroke-width="1.62"/>
<path d="M691.3,500.8 q1.2,3 0,6.5" stroke-width="1.62"/>
<path d="M693.6,499.6 q1.2,3 0,6.5" stroke-width="1.62"/>
<path d="M695.9,498.4 q1.2,3 0,6.5" stroke-width="1.62"/>
<path d="M687.5,502.3 L697.0,497.5" stroke-width="1.62" />
<path d="M688.5,509.5 L698.0,504.5" stroke-width="1.62" />
<ellipse cx="687.5" cy="531.0" rx="2.6" ry="3.6" transform="rotate(-25 687.5 531.0)" stroke-width="1.62" fill="none"/>
<path d="M689.0,527.0 q1.2,3 0,6.5" stroke-width="1.62"/>
<path d="M691.3,525.8 q1.2,3 0,6.5" stroke-width="1.62"/>
<path d="M693.6,524.6 q1.2,3 0,6.5" stroke-width="1.62"/>
<path d="M695.9,523.4 q1.2,3 0,6.5" stroke-width="1.62"/>
<path d="M687.5,527.3 L697.0,522.5" stroke-width="1.62" />
<path d="M688.5,534.5 L698.0,529.5" stroke-width="1.62" />
<path d="M702.0,493.0 L708.0,490.5 L712.0,496.0 L711.0,504.0 L704.0,506.5 L701.5,500.0" stroke-width="1.76" />
<path d="M704.0,494.0 L709.0,498.0 L709.0,504.0" stroke-width="1.35" />
<path d="M667.4,551.1 L660.2,558.3 L650.2,555.6 L647.6,545.9 L654.8,538.7 L664.8,541.4 Z" stroke-width="1.89" />
<circle cx="656.0" cy="549.0" r="7.4" stroke-width="1.89"/>
<circle cx="655.0" cy="549.5" r="3.4" stroke-width="1.62"/>
<path d="M659.5,538.7 L666.8,546.5" stroke-width="1.49" />
<g stroke-width="1.89">
<path d="M270.0,551.0 L288.5,545.0" stroke-width="1.89" />
<path d="M282.0,546.0 C282.0,544.4 281.1,539.4 281.9,536.5 C282.6,533.6 284.1,530.9 286.5,528.5 C288.9,526.1 292.3,523.9 296.0,522.0 C299.7,520.1 306.6,517.8 308.8,516.9" stroke-width="1.89" />
<path d="M308.8,516.9 C309.7,517.1 312.9,517.2 314.5,518.2 C316.1,519.2 317.7,521.3 318.5,523.0 C319.3,524.7 319.5,526.8 319.4,528.5 C319.3,530.2 318.2,532.2 318.0,533.0" stroke-width="1.89" />
<path d="M318.0,533.0 L306.5,541.5" stroke-width="1.89" />
<path d="M300.6,537.8 L303.5,539.0 L306.5,541.5" stroke-width="1.76" />
<path d="M306.5,542.0 L304.5,557.5" stroke-width="1.76" stroke-dasharray="4 2.5"/>
<path d="M304.5,558.0 C304.0,558.7 303.6,560.8 301.5,562.0 C299.4,563.2 295.6,564.3 292.0,565.5 C288.4,566.7 282.0,568.8 280.0,569.4" stroke-width="1.89" />
<path d="M270.0,550.0 C270.5,551.4 271.7,555.3 272.8,558.5 C273.9,561.7 275.9,567.2 276.5,569.0" stroke-width="1.89" />
<path d="M273.5,549.5 C274.0,550.9 275.2,554.9 276.3,558.0 C277.4,561.1 279.4,566.6 280.0,568.3" stroke-width="1.76" />
</g>
<ellipse cx="341.5" cy="510" rx="7.2" ry="10.5" transform="rotate(-22 341.5 510)" stroke-width="2.16" fill="none"/>
<ellipse cx="339.5" cy="511" rx="4.8" ry="8.6" transform="rotate(-22 339.5 511)" stroke-width="1.76" fill="none"/>
<path d="M330.0,514.0 L335.0,521.5" stroke-width="1.62" stroke-dasharray="2 2"/>
<circle cx="327" cy="495.8" r="3.6" stroke-width="1.76"/>
<path d="M324.0,497.0 L324.0,501.5 L330.0,501.5 L330.0,497.0" stroke-width="1.62" />
<path d="M321.5,503.5 L329.0,506.5 L333.0,503.0" stroke-width="1.76" />
<path d="M214.0,596.0 L195.0,605.5" stroke-width="2.03" />
<path d="M182.0,613.5 L199.9,600.3 L197.4,605.1 L202.7,605.6 Z" fill="#111" stroke="#111" stroke-width="1.35"/>
<path d="M517.0,502.0 L520.0,496.5 L527.0,495.0 L532.0,499.0 L535.0,505.0 L532.0,511.5 L525.0,514.0 L519.0,511.0 L516.5,506.0 Z" stroke-width="2.03" />
<path d="M520.0,496.5 L524.0,499.0 L527.0,505.0 L525.0,514.0" stroke-width="1.76" />
<path d="M524.0,499.0 L531.0,498.0" stroke-width="1.49" />
<path d="M527.0,505.0 L535.0,505.0" stroke-width="1.49" />
<path d="M533.0,499.5 L546.0,490.5" stroke-width="1.89" />
<path d="M535.5,506.5 L549.5,497.5" stroke-width="1.89" />
<path d="M546,490.5 q3.5,2 3.5,7" stroke-width="1.89"/>
<path d="M537.0,498.5 q1.6,3.5 0.8,7" stroke-width="1.62"/>
<path d="M540.0,496.5 q1.6,3.5 0.8,7" stroke-width="1.62"/>
<path d="M543.0,494.5 q1.6,3.5 0.8,7" stroke-width="1.62"/>
<path d="M546.0,492.5 q1.6,3.5 0.8,7" stroke-width="1.62"/>
<ellipse cx="465.6" cy="504.7" rx="7.2" ry="8.3" transform="rotate(-20 465.6 504.7)" stroke-width="2.16" fill="none"/>
<ellipse cx="464.8" cy="504.7" rx="2.8" ry="3.4" transform="rotate(-20 464.8 504.7)" stroke-width="1.76" fill="none"/>
<path d="M418.5,524.0 C418.8,523.2 417.9,523.2 420.0,522.0 C422.1,520.8 428.7,517.8 431.0,517.0 C433.3,516.2 433.1,516.7 434.0,517.5 C434.9,518.3 436.3,520.2 436.5,522.0 C436.7,523.8 436.1,526.2 435.0,528.0 C433.9,529.8 432.3,532.2 430.0,532.5 C427.7,532.8 423.0,530.9 421.0,530.0 C419.0,529.1 418.4,528.0 418.0,527.0 C417.6,526.0 418.2,524.8 418.5,524.0 Z" stroke-width="2.03" />
<path d="M421.0,525.0 L431.0,520.0" stroke-width="1.62" />
<path d="M422.0,528.0 L432.0,523.5" stroke-width="1.62" />
<path d="M435.0,516.5 L452.0,509.0" stroke-width="1.89" />
<path d="M438.0,523.0 L454.0,516.0" stroke-width="1.89" />
<path d="M452,509 q3.5,1.5 2,7" stroke-width="1.89"/>
<path d="M445.0,512.5 q1.5,3 0.5,6.5" stroke-width="1.62"/>
<path d="M448.0,511.2 q1.5,3 0.5,6.5" stroke-width="1.62"/>
<path d="M451.0,509.9 q1.5,3 0.5,6.5" stroke-width="1.62"/>
<path d="M437.0,518.0 L441.0,521.0 L440.0,525.0" stroke-width="1.49" />
<path d="M388.8,553.8 C387.6,554.2 383.9,554.9 382.0,556.5 C380.1,558.1 378.3,561.2 377.5,563.5 C376.7,565.8 376.4,568.2 377.0,570.5 C377.6,572.8 380.5,576.3 381.2,577.5" stroke-width="2.03" />
<path d="M388.8,553.8 L503.0,618.5" stroke-width="2.03" />
<path d="M381.9,558.8 L556.2,658.8" stroke-width="2.03" />
<path d="M381.2,577.5 L556.0,677.5" stroke-width="2.03" />
<path d="M513.1,608.1 C512.1,608.7 508.6,610.0 507.0,611.5 C505.4,613.0 504.2,615.1 503.5,617.0 C502.8,618.9 503.0,621.1 503.0,623.0 C503.0,624.9 503.4,627.6 503.5,628.5" stroke-width="2.03" />
<path d="M513.1,608.1 L568.8,640.0" stroke-width="2.03" />
<path d="M506.2,612.5 L562.5,641.9" stroke-width="1.76" />
<path d="M571.0,650.0 L567.2,658.7 L559.8,658.7 L556.0,650.0 L559.8,641.3 L567.2,641.3 Z" fill="#fff" stroke-width="2.16"/>
<path d="M568.8,653.9 L564.5,657.3 L560.2,653.9 L560.2,647.1 L564.5,643.7 L568.8,647.1 Z" stroke-width="1.76" />
<path d="M570.5,669.0 L566.8,677.7 L559.2,677.7 L555.5,669.0 L559.2,660.3 L566.8,660.3 Z" fill="#fff" stroke-width="2.16"/>
<path d="M568.3,672.9 L564.0,676.3 L559.7,672.9 L559.7,666.1 L564.0,662.7 L568.3,666.1 Z" stroke-width="1.76" />
<circle cx="238.9" cy="566.6" r="32.7" fill="#e91b24" stroke="none"/>
<g stroke="#7c0808" stroke-width="2.56" fill="none" stroke-linecap="round">
<path d="M229,545 q3,-7 8,-3 q4,-6 9,-1 q4,-5 9,-2"/>
<path d="M231,549 q5,5 11,2 q6,3 11,-2"/>
<path d="M235,553 q6,3 12,0"/>
<path d="M231,556 q-6,6 -2,13 q4,5 11,3"/>
<path d="M240,559 q7,-3 10,3 q2,6 -4,9"/>
<path d="M249,557 q9,1 9,9 q0,6 -6,8"/>
<path d="M226,573 q-3,8 4,11 q7,2 10,-4"/>
<path d="M238,576 q5,-5 11,-2 q5,4 1,10 q-4,4 -10,2"/>
<path d="M252,575 q6,2 6,8"/>
</g>
<text x="200.6" y="599.8" font-size="23" textLength="81" lengthAdjust="spacingAndGlyphs" style="font-family:'Liberation Sans',sans-serif;font-weight:bold;fill:#fff;stroke:#222;stroke-width:1.7px;paint-order:stroke">JAPOCAT</text>
<text x="202" y="432" font-size="116" textLength="396" lengthAdjust="spacingAndGlyphs" style="font-family:'Liberation Sans',sans-serif;font-weight:bold;fill:rgba(255,255,255,0.45);stroke:#ebebeb;stroke-width:1.2px">JAPOCAT</text>
</g>
</svg>
</body></html>
